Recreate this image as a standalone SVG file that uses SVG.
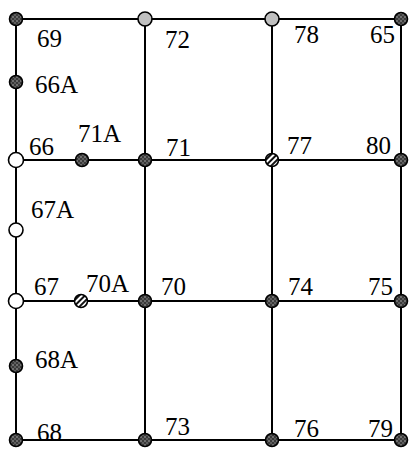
<svg xmlns="http://www.w3.org/2000/svg" width="410" height="450" viewBox="0 0 410 450">
<defs>
<pattern id="dots" width="4" height="4" patternUnits="userSpaceOnUse">
<rect width="4" height="4" fill="#3a3a3a"/>
<circle cx="1" cy="1" r="0.8" fill="#b0b0b0"/>
<circle cx="3" cy="3" r="0.8" fill="#8a8a8a"/>
</pattern>
<pattern id="hatch" width="4" height="4" patternUnits="userSpaceOnUse" patternTransform="rotate(45)">
<rect width="4" height="4" fill="#ffffff"/>
<rect width="2" height="4" fill="#111"/>
</pattern>
<style>
.ln{stroke:#000;stroke-width:2;fill:none}
.w{fill:#fff;stroke:#000;stroke-width:1.6}
.g{fill:#c0c0c0;stroke:#000;stroke-width:1.6}
.d{fill:url(#dots);stroke:#000;stroke-width:1.6}
.h{fill:url(#hatch);stroke:#000;stroke-width:1.6}
.t{font-family:"Liberation Serif","Times New Roman",serif;font-size:25px;fill:#000}
</style>
</defs>
<g id="connectors">
<line class="ln" x1="16" y1="19" x2="401" y2="19"/>
<line class="ln" x1="16" y1="160" x2="401" y2="160"/>
<line class="ln" x1="16" y1="301" x2="401" y2="301"/>
<line class="ln" x1="16" y1="440" x2="401" y2="440"/>
<line class="ln" x1="16" y1="19" x2="16" y2="440"/>
<line class="ln" x1="145" y1="19" x2="145" y2="440"/>
<line class="ln" x1="272" y1="19" x2="272" y2="440"/>
<line class="ln" x1="401" y1="19" x2="401" y2="440"/>
</g>
<g id="n69"><circle class="d" cx="16" cy="19" r="6.5"/><text class="t" x="37" y="47">69</text></g>
<g id="n72"><circle class="g" cx="145" cy="19" r="7"/><text class="t" x="165" y="48">72</text></g>
<g id="n78"><circle class="g" cx="272" cy="19" r="7"/><text class="t" x="294" y="43">78</text></g>
<g id="n65"><circle class="d" cx="401" cy="19" r="6.5"/><text class="t" x="370" y="43">65</text></g>
<g id="n66A"><circle class="d" cx="16" cy="82" r="6.5"/><text class="t" x="35" y="93">66A</text></g>
<g id="n66"><circle class="w" cx="16" cy="160" r="7.5"/><text class="t" x="29" y="155">66</text></g>
<g id="n71A"><circle class="d" cx="82" cy="160" r="6.5"/><text class="t" x="78" y="142">71A</text></g>
<g id="n71"><circle class="d" cx="145" cy="160" r="6.5"/><text class="t" x="166" y="156">71</text></g>
<g id="n77"><circle class="h" cx="272" cy="160" r="6.5"/><text class="t" x="287" y="154">77</text></g>
<g id="n80"><circle class="d" cx="401" cy="160" r="6.5"/><text class="t" x="366" y="154">80</text></g>
<g id="n67A"><circle class="w" cx="16" cy="230" r="7"/><text class="t" x="31" y="218">67A</text></g>
<g id="n67"><circle class="w" cx="16" cy="301" r="7.5"/><text class="t" x="34" y="295">67</text></g>
<g id="n70A"><circle class="h" cx="81" cy="301" r="6.5"/><text class="t" x="86" y="292">70A</text></g>
<g id="n70"><circle class="d" cx="145" cy="301" r="6.5"/><text class="t" x="161" y="295">70</text></g>
<g id="n74"><circle class="d" cx="272" cy="301" r="6.5"/><text class="t" x="288" y="295">74</text></g>
<g id="n75"><circle class="d" cx="401" cy="301" r="6.5"/><text class="t" x="368" y="295">75</text></g>
<g id="n68A"><circle class="d" cx="16" cy="366" r="6.5"/><text class="t" x="35" y="368">68A</text></g>
<g id="n68"><circle class="d" cx="16" cy="440" r="6.5"/><text class="t" x="37" y="441">68</text></g>
<g id="n73"><circle class="d" cx="145" cy="440" r="6.5"/><text class="t" x="165" y="435">73</text></g>
<g id="n76"><circle class="d" cx="272" cy="440" r="6.5"/><text class="t" x="294" y="437">76</text></g>
<g id="n79"><circle class="d" cx="401" cy="440" r="6.5"/><text class="t" x="368" y="437">79</text></g>
</svg>
